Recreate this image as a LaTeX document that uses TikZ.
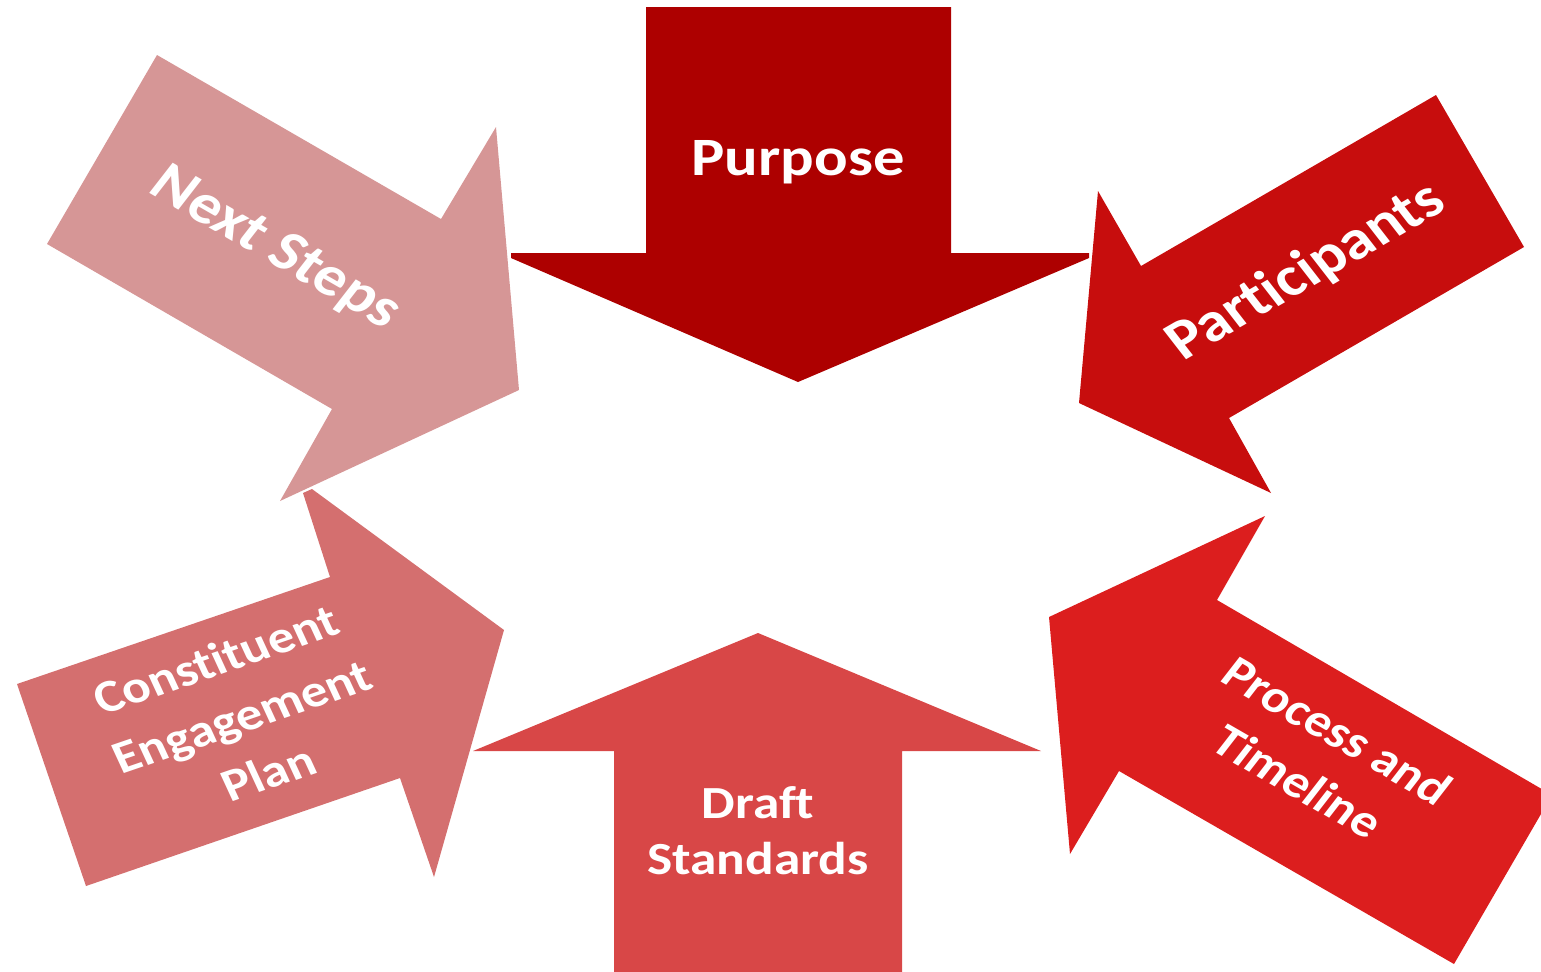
\documentclass[tikz,border=0pt]{standalone}
\usepackage{fontspec}
\setmainfont{Carlito}[Ligatures={NoCommon}]
\usepackage{tikz}
\definecolor{purposered}{HTML}{AD0000}
\definecolor{partred}{HTML}{C70D0D}
\definecolor{procred}{HTML}{DC1E1E}
\definecolor{draftred}{HTML}{D84747}
\definecolor{constred}{HTML}{D46F6F}
\definecolor{nextred}{HTML}{D69696}
\tikzset{biglabel/.style={text=white, font=\bfseries\fontsize{27}{33}\selectfont, align=center, inner sep=0pt, xscale=1.16}}
\tikzset{smalllabel/.style={biglabel, font=\bfseries\fontsize{23}{28}\selectfont}}
\tikzset{tiltlabel/.style={biglabel, font=\bfseries\fontsize{23}{30.5}\selectfont}}

\begin{document}
\begin{tikzpicture}[x=0.5pt,y=-0.5pt]
\useasboundingbox (0,0) rectangle (1541,971);
\clip (0,0) rectangle (1541,971);

\fill[purposered] (646,7) -- (951,7) -- (951,253) -- (1089,253) -- (1089,258) -- (798,382) -- (511,258) -- (511,253) -- (646,253) -- cycle;
\fill[partred] (1436,95) -- (1524,247) -- (1229,418) -- (1271,493) -- (1079,403) -- (1098,191) -- (1141,266) -- cycle;
\fill[procred] (1217,600) -- (1552,795) -- (1454,964) -- (1119,771) -- (1070,854) -- (1049,617) -- (1265,516) -- cycle;
\fill[draftred] (614,975) -- (614,751) -- (473,751) -- (758,633) -- (1041,751) -- (902,751) -- (902,975) -- cycle;
\fill[constred] (330,577) -- (17,684) -- (86,886) -- (400,778) -- (434,877) -- (504,630) -- (312,489) -- (303,493) -- cycle;
\fill[nextred] (157,55) -- (441,219) -- (496,127) -- (519,390) -- (280,501) -- (332,409) -- (47,244) -- cycle;

\node[biglabel, anchor=base] (purpose) at (798,175) {Purpose};
\node[biglabel, font=\bfseries\fontsize{28}{33}\selectfont, rotate=33.8] (participants) at (1306,272) {Participants};
\node[tiltlabel, rotate=-33.8] (process) at (1318,756) {Process and\\Timeline};
\node[smalllabel] (draft) at (758,831) {Draft\\Standards};
\node[tiltlabel, rotate=21.7] (constituent) at (242,716) {Constituent\\Engagement\\Plan};
\node[biglabel, font=\bfseries\fontsize{28}{33}\selectfont, rotate=-33.8] (nextsteps) at (275,249) {Next Steps};

\end{tikzpicture}
\end{document}
